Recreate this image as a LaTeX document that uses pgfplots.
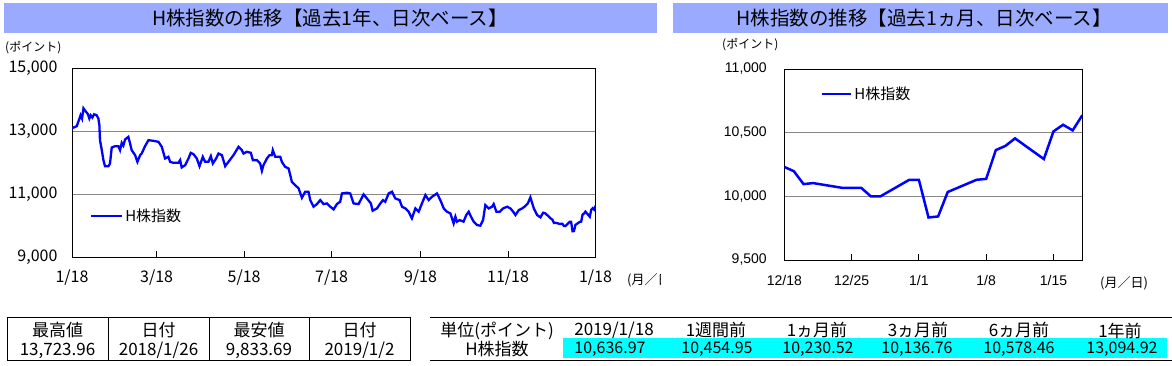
\documentclass[border=0pt]{standalone}
\usepackage{fontspec}
\setmainfont{Liberation Sans}
\newfontfamily\cjk{Noto Sans CJK JP}
\usepackage{pgfplots}
\pgfplotsset{compat=1.18}
\definecolor{titlebar}{RGB}{153,170,255}
\definecolor{hblue}{RGB}{0,0,255}
\definecolor{gridgray}{RGB}{135,135,135}
\definecolor{cyanfill}{RGB}{0,255,255}
\begin{document}
\begin{tikzpicture}[x=1pt,y=1pt]
\path[use as bounding box] (0,0) rectangle (1172,365);
% title bars
\fill[titlebar] (4,332) rectangle (657,362);
\fill[titlebar] (673,332) rectangle (1168,362);
\node[font=\cjk\fontsize{19.5}{19.5}\selectfont] at (330,347) {H株指数の推移【過去1年、日次ベース】};
\node[font=\cjk\fontsize{19.5}{19.5}\selectfont] at (924,347) {H株指数の推移【過去1ヵ月、日次ベース】};
% unit labels
\node[font=\cjk\fontsize{12}{12}\selectfont, anchor=west, inner sep=0pt] at (5,317) {(ポイント)};
\node[font=\cjk\fontsize{12}{12}\selectfont, anchor=west, inner sep=0pt] at (722,320) {(ポイント)};
\begin{scope}
\clip (600,60) rectangle (660,100);
\node[font=\cjk\fontsize{13}{13}\selectfont, anchor=west, inner sep=0pt] at (627,85) {(月／日)};
\end{scope}
\node[font=\cjk\fontsize{13}{13}\selectfont, anchor=west, inner sep=0pt] at (1100,82) {(月／日)};

% ---------- left axis ----------
\begin{axis}[at={(72pt,107.4pt)}, anchor=south west, scale only axis,
  width=523.5pt, height=189.6pt,
  xmin=0, xmax=365, ymin=9000, ymax=15000,
  scaled y ticks=false, scaled x ticks=false,
  xtick={0,59,120,181,243,304,365},
  xticklabels={1/18,3/18,5/18,7/18,9/18,11/18,1/18},
  ytick={9000,11000,13000,15000},
  yticklabels={{9,000},{11,000},{13,000},{15,000}},
  ymajorgrids, major grid style={gridgray, line width=1pt},
  axis line style={line width=1pt},
  xtick pos=left, xtick align=inside, major tick length=7pt,
  xtick style={black, line width=1pt},
  ytick style={draw=none},
  tick label style={font=\cjk\fontsize{16}{16}\selectfont},
  xticklabel style={yshift=-9pt},
  yticklabel style={xshift=-11pt},
  legend style={at={(0.0344,0.2194)}, anchor=west, draw=none, fill=none,
    inner sep=0pt, outer sep=0pt, font=\cjk\fontsize{15}{15}\selectfont},
  legend image code/.code={\draw[#1] (0pt,0pt) -- (31pt,0pt);},
]
\addplot[hblue, line width=2.3pt] coordinates {
(0,13095)(3.3,13158)(4.4,13295)(6.0,13505)(7.0,13400)(8.0,13724)(9.8,13611)(10.9,13558)
(12.1,13400)(13.0,13505)(14.2,13432)(15.4,13537)(17.2,13505)(18.4,13400)(19.1,13190)
(19.5,12716)(20.7,12421)(21.9,12084)(23.0,11894)(25.4,11894)(26.5,11979)(27.7,12484)
(30.0,12526)(32.3,12526)(33.5,12400)(34.7,12631)(35.8,12547)(37.0,12737)(39.3,12821)
(40.5,12610)(41.6,12400)(44.0,12242)(45.6,12031)(47.5,12242)(48.6,12294)(50.9,12526)
(53.3,12716)(56.8,12695)(60.3,12663)(62.6,12505)(64.9,12137)(67.2,12189)(68.4,12031)
(70.7,12000)(74.2,12000)(75.4,12084)(76.5,11852)(78.9,11926)(81.2,12137)(82.8,12316)
(84.7,12273)(87.0,12137)(88.9,11894)(91.2,12189)(92.8,12031)(95.1,12031)(96.8,12210)
(98.2,11979)(100.5,12137)(102.1,12294)(104.5,12242)(106.8,11894)(109.1,12031)
(112.6,12242)(116.1,12505)(118.4,12400)(119.6,12294)(121.9,12347)(124.7,12316)
(126.1,12084)(128.9,12084)(131.2,11979)(132.4,11747)(133.5,11926)(135.9,12137)
(137.7,12242)(139.3,12242)(140.0,12400)(141.7,12189)(145.2,12189)(146.3,12031)
(148.6,11873)(151.0,11821)(153.3,11400)(155.6,11294)(158.0,11189)(160.3,10894)
(162.6,11084)(164.9,11084)(166.1,10820)(168.4,10610)(170.8,10694)(173.1,10820)
(175.4,10694)(177.7,10715)(180.1,10610)(181.0,10578)(182.4,10525)(184.7,10694)
(187.0,10768)(188.2,11031)(191.7,11052)(194.0,11031)(196.3,10715)(199.8,10694)
(203.3,11000)(205.6,10873)(208.4,10715)(209.6,10483)(212.6,10557)(215.0,10715)
(216.8,10820)(218.4,10768)(220.8,11031)(223.1,11084)(225.4,10873)(228.4,10820)
(230.1,10610)(232.4,10557)(234.7,10452)(237.0,10241)(239.4,10557)(241.7,10452)
(244.0,10715)(246.4,10979)(248.7,10820)(251.0,10926)(254.5,11031)(256.8,10820)
(259.2,10557)(261.5,10452)(263.8,10399)(266.1,10083)(267.3,10294)(268.4,10136)
(270.3,10188)(273.0,10137)(274.9,10347)(276.6,10452)(278.2,10294)(280.1,10136)
(282.4,10031)(284.7,10009)(286.6,10188)(288.2,10662)(290.5,10557)(292.9,10610)
(294.0,10694)(295.9,10452)(298.2,10452)(300.5,10557)(303.4,10610)(305.7,10557)
(307.6,10452)(309.2,10346)(311.5,10504)(313.9,10557)(315.5,10610)(317.8,10715)
(319.6,10905)(322.0,10557)(324.3,10346)(326.6,10273)(328.5,10420)(330.1,10399)
(332.5,10294)(334,10231)(335,10197)(336,10096)(337,10104)(340,10067)(342,10067)
(343,10000)(344,10000)(347,10130)(348,10130)(349,9834)(350,9842)(351,10034)
(354,10130)(355,10137)(356,10363)(357,10396)(358,10455)(361,10293)(362,10510)
(363,10562)(364,10518)(365,10637)
};
\addlegendentry{H株指数}
\end{axis}

% ---------- right axis ----------
\begin{axis}[at={(784.3pt,105pt)}, anchor=south west, scale only axis,
  width=298pt, height=191pt,
  xmin=0, xmax=31, ymin=9500, ymax=11000,
  scaled y ticks=false, scaled x ticks=false,
  xtick={0,7,14,21,28},
  xticklabels={12/18,12/25,1/1,1/8,1/15},
  ytick={9500,10000,10500,11000},
  yticklabels={{9,500},{10,000},{10,500},{11,000}},
  ymajorgrids, major grid style={gridgray, line width=1pt},
  axis line style={line width=1pt},
  xtick pos=left, xtick align=inside, major tick length=6pt,
  xtick style={black, line width=1pt},
  ytick style={draw=none},
  tick label style={font=\fontsize{14}{14}\selectfont},
  xticklabel style={yshift=-12pt},
  yticklabel style={xshift=-14pt},
  legend style={at={(0.123,0.869)}, anchor=west, draw=none, fill=none,
    inner sep=0pt, outer sep=0pt, font=\cjk\fontsize{15}{15}\selectfont},
  legend image code/.code={\draw[#1] (0pt,0pt) -- (29pt,0pt);},
]
\addplot[hblue, line width=2.5pt] coordinates {
(0,10231)(1,10197)(2,10096)(3,10104)(6,10067)(8,10067)(9,10000)(10,10000)
(13,10130)(14,10130)(15,9834)(16,9842)(17,10034)(20,10130)(21,10137)(22,10363)
(23,10396)(24,10455)(27,10293)(28,10510)(29,10562)(30,10518)(31,10637)
};
\addlegendentry{H株指数}
\end{axis}

% ---------- left table ----------
\draw[line width=1pt] (7,5) rectangle (410,47.7);
\foreach \xx in {108,209,309} \draw[line width=1pt] (\xx,5) -- (\xx,47.7);
\begin{scope}[every node/.style={font=\cjk\fontsize{17}{17}\selectfont, inner sep=0pt}]
\node at (57.5,34.5) {最高値};
\node at (158.5,34.5) {日付};
\node at (259,34.5) {最安値};
\node at (359.5,34.5) {日付};
\node at (57.5,14.5) {13,723.96};
\node at (158.5,14.5) {2018/1/26};
\node at (259,14.5) {9,833.69};
\node at (359.5,14.5) {2019/1/2};
\end{scope}

% ---------- right table ----------
\fill[cyanfill] (563,7) rectangle (1167,27);
\draw[line width=1pt] (430,47.7) -- (1172,47.7);
\draw[line width=1pt] (430,5) -- (1172,5);
\begin{scope}[every node/.style={font=\cjk\fontsize{17}{17}\selectfont, inner sep=0pt}]
\node at (497,34.5) {単位(ポイント)};
\node at (614,34.5) {2019/1/18};
\node at (716,34.5) {1週間前};
\node at (817,34.5) {1ヵ月前};
\node at (918,34.5) {3ヵ月前};
\node at (1019,34.5) {6ヵ月前};
\node at (1120,34.5) {1年前};
\node at (497,15.5) {H株指数};
\end{scope}
\begin{scope}[every node/.style={font=\cjk\fontsize{16}{16}\selectfont, inner sep=0pt}]
\node at (610,15.5) {10,636.97};
\node at (717,15.5) {10,454.95};
\node at (818,15.5) {10,230.52};
\node at (917,15.5) {10,136.76};
\node at (1019,15.5) {10,578.46};
\node at (1122,15.5) {13,094.92};
\end{scope}
\end{tikzpicture}
\end{document}
